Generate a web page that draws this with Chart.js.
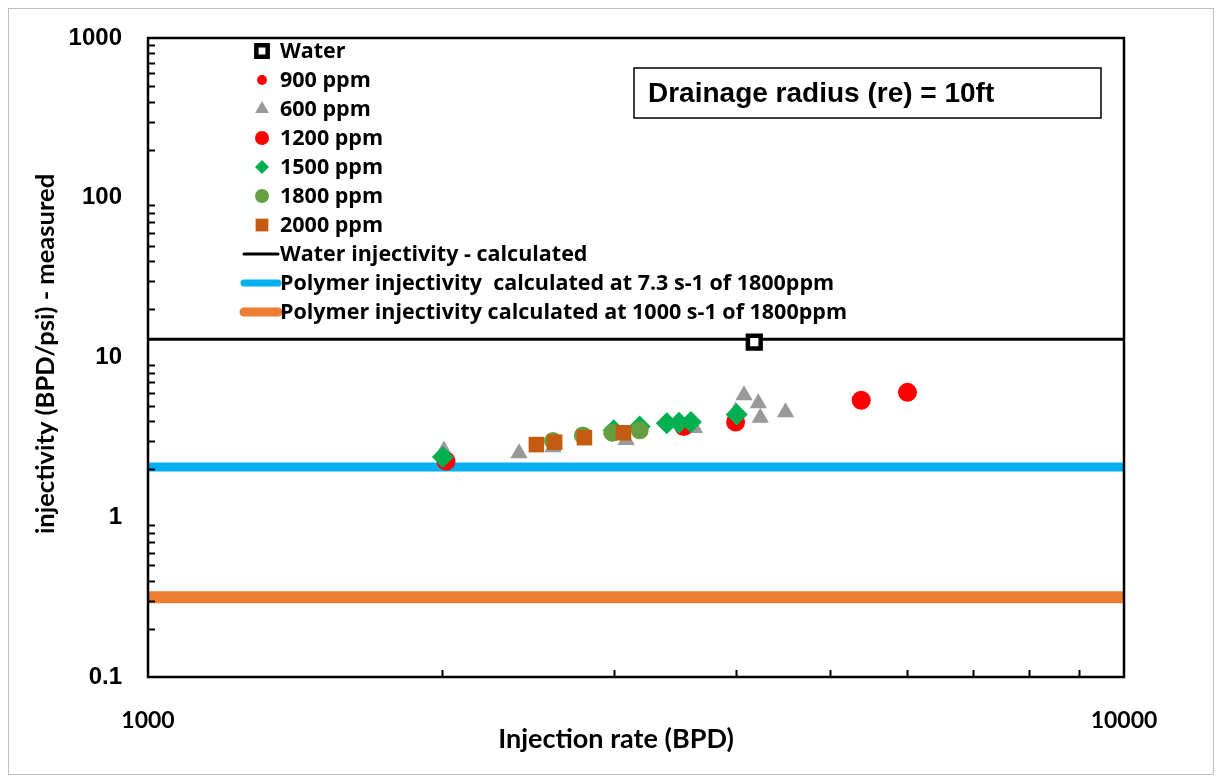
<!DOCTYPE html>
<html>
<head>
<meta charset="utf-8">
<script src="https://cdn.jsdelivr.net/npm/chart.js@4/dist/chart.umd.min.js"></script>
<style>
  html, body { margin: 0; padding: 0; background: #fff; }
  #wrap { width: 1222px; height: 781px; position: relative; }
</style>
</head>
<body>
<div id="wrap"><canvas id="injChart" width="1222" height="781"></canvas></div>
<script>
// measured injectivity vs injection rate
const waterX = [4180];
const waterY = [12.5];
const ppm900X = [2010, 4000];
const ppm900Y = [2.25, 3.95];
const ppm600X = [2010, 2400, 2600, 3090, 3630, 4000, 4080, 4220, 4240, 4500];
const ppm600Y = [2.62, 2.52, 2.74, 3.05, 3.62, 4.6, 5.8, 5.17, 4.2, 4.55];
const ppm1200X = [2020, 3540, 4000, 5380, 6000];
const ppm1200Y = [2.25, 3.7, 3.95, 5.4, 6.05];
const ppm1500X = [2005, 3000, 3190, 3400, 3500, 3600, 4010];
const ppm1500Y = [2.38, 3.5, 3.7, 3.88, 3.9, 3.95, 4.4];
const ppm1800X = [2600, 2790, 2990, 3190];
const ppm1800Y = [3.0, 3.25, 3.38, 3.5];
const ppm2000X = [2500, 2610, 2800, 3070];
const ppm2000Y = [2.85, 2.95, 3.15, 3.38];

// calculated injectivity (constant over rate)
const rateRange = [1000, 10000];
const waterCalc = 13.0;
const polyLowShear = 2.06;
const polyHighShear = 0.316;

const xTicks = [1000, 10000];
const yTicks = [0.1, 1, 10, 100, 1000];

function pts(xs, ys) {
  return xs.map((x, i) => ({ x: x, y: ys[i] }));
}
function flat(v) {
  return rateRange.map(x => ({ x: x, y: v }));
}

const datasets = [
  { label: 'Water', data: pts(waterX, waterY), showLine: false, pointStyle: 'rect',
    pointRadius: 9, backgroundColor: '#ffffff', borderColor: '#000000', borderWidth: 4.5, order: 0,
    legendRadius: 8 },
  { label: '900 ppm', data: pts(ppm900X, ppm900Y), showLine: false, pointStyle: 'circle',
    pointRadius: 6, backgroundColor: '#ff0000', borderColor: '#ff0000', borderWidth: 0, order: 4,
    legendRadius: 5 },
  { label: '600 ppm', data: pts(ppm600X, ppm600Y), showLine: false, pointStyle: 'triangle',
    pointRadius: 10, backgroundColor: '#999999', borderColor: '#999999', borderWidth: 0, order: 6,
    legendRadius: 8 },
  { label: '1200 ppm', data: pts(ppm1200X, ppm1200Y), showLine: false, pointStyle: 'circle',
    pointRadius: 9.5, backgroundColor: '#ff0000', borderColor: '#ff0000', borderWidth: 0, order: 5,
    legendRadius: 7 },
  { label: '1500 ppm', data: pts(ppm1500X, ppm1500Y), showLine: false, pointStyle: 'rectRot',
    pointRadius: 11, backgroundColor: '#00b050', borderColor: '#00b050', borderWidth: 0, order: 3,
    legendRadius: 7 },
  { label: '1800 ppm', data: pts(ppm1800X, ppm1800Y), showLine: false, pointStyle: 'circle',
    pointRadius: 9, backgroundColor: '#64a040', borderColor: '#64a040', borderWidth: 0, order: 2,
    legendRadius: 7 },
  { label: '2000 ppm', data: pts(ppm2000X, ppm2000Y), showLine: false, pointStyle: 'rect',
    pointRadius: 11, backgroundColor: '#c55a11', borderColor: '#c55a11', borderWidth: 0, order: 1,
    legendRadius: 9 },
  { label: 'Water injectivity - calculated', data: flat(waterCalc), showLine: true, pointRadius: 0,
    borderColor: '#000000', borderWidth: 3, order: 10, legendWidth: 3 },
  { label: 'Polymer injectivity  calculated at 7.3 s-1 of 1800ppm', data: flat(polyLowShear), showLine: true,
    pointRadius: 0, borderColor: '#00b0f0', borderWidth: 9, order: 10, legendWidth: 7 },
  { label: 'Polymer injectivity calculated at 1000 s-1 of 1800ppm', data: flat(polyHighShear), showLine: true,
    pointRadius: 0, borderColor: '#ed7d31', borderWidth: 12, order: 10, legendWidth: 9 }
];

const legendFont = 'bold 21.5px "Open Sans", "Liberation Sans", sans-serif';

function markerPath(c, style, x, y, r) {
  c.beginPath();
  if (style === 'rect') {
    const s = r / Math.SQRT2;
    c.rect(x - s, y - s, 2 * s, 2 * s);
  } else if (style === 'circle') {
    c.arc(x, y, r, 0, Math.PI * 2);
  } else if (style === 'triangle') {
    c.moveTo(x, y - r);
    c.lineTo(x + r * 0.866, y + r * 0.5);
    c.lineTo(x - r * 0.866, y + r * 0.5);
    c.closePath();
  } else if (style === 'rectRot') {
    c.moveTo(x, y - r); c.lineTo(x + r, y); c.lineTo(x, y + r); c.lineTo(x - r, y);
    c.closePath();
  }
}

// white page, thin grey frame, plot box, inward minor ticks, texts
const decorations = {
  id: 'decorations',
  beforeDraw(chart) {
    const c = chart.ctx;
    c.save();
    c.fillStyle = '#ffffff';
    c.fillRect(0, 0, chart.width, chart.height);
    c.strokeStyle = '#bfbfbf';
    c.lineWidth = 1;
    c.strokeRect(8.5, 8.5, 1205, 766);
    c.restore();
  },
  afterDatasetsDraw(chart) {
    const c = chart.ctx;
    const a = chart.chartArea;
    const xs = chart.scales.x, ys = chart.scales.y;
    c.save();
    c.strokeStyle = '#000000';
    c.lineWidth = 2;
    // minor ticks on the left axis
    c.beginPath();
    for (let d = -1; d < 3; d++) {
      for (let m = 2; m <= 9; m++) {
        const py = Math.round(ys.getPixelForValue(m * Math.pow(10, d))) + 0.5;
        c.moveTo(a.left, py); c.lineTo(a.left + 7, py);
      }
    }
    // minor ticks on the bottom axis
    for (let m = 2; m <= 9; m++) {
      const px = Math.round(xs.getPixelForValue(m * 1000)) + 0.5;
      c.moveTo(px, a.bottom); c.lineTo(px, a.bottom - 7);
    }
    c.stroke();
    c.lineWidth = 2.5;
    c.strokeRect(a.left, a.top, a.right - a.left, a.bottom - a.top);

    // annotation box
    c.lineWidth = 1.5;
    c.strokeRect(634, 68, 467, 50);
    c.fillStyle = '#000000';
    c.font = 'bold 28px "Liberation Sans", Arial, sans-serif';
    c.textBaseline = 'middle';
    c.textAlign = 'left';
    c.fillText('Drainage radius (re) = 10ft', 648, 94);

    // legend
    c.font = legendFont;
    const rowY0 = 51, rowStep = 29;
    chart.data.datasets.forEach((ds, i) => {
      const y = rowY0 + i * rowStep;
      if (ds.showLine) {
        c.strokeStyle = ds.borderColor;
        c.lineWidth = ds.legendWidth;
        c.lineCap = 'round';
        c.beginPath();
        c.moveTo(244, y); c.lineTo(278, y);
        c.stroke();
        c.lineCap = 'butt';
      } else {
        c.fillStyle = ds.backgroundColor;
        c.strokeStyle = ds.borderColor;
        c.lineWidth = ds.borderWidth;
        markerPath(c, ds.pointStyle, 262, y, ds.legendRadius);
        c.fill();
        if (ds.borderWidth) c.stroke();
      }
      c.fillStyle = '#000000';
      c.fillText(ds.label, 280, y + 1);
    });

    // axis titles
    c.font = 'bold 27px Lato, "Liberation Sans", sans-serif';
    c.textAlign = 'center';
    c.fillText('Injection rate (BPD)', 616, 739);
    c.font = 'bold 25.5px Lato, "Liberation Sans", sans-serif';
    c.translate(46, 354);
    c.rotate(-Math.PI / 2);
    c.fillText('injectivity (BPD/psi) - measured', 0, 0);
    c.restore();
  }
};

const ctx = document.getElementById('injChart').getContext('2d');
new Chart(ctx, {
  type: 'scatter',
  data: { datasets: datasets },
  options: {
    responsive: false,
    animation: false,
    layout: { padding: { left: 0, top: 38, right: 98, bottom: 0 } },
    plugins: { legend: { display: false }, tooltip: { enabled: false } },
    scales: {
      x: {
        type: 'logarithmic',
        min: 1000, max: 10000,
        afterFit(s) { s.height = 104; },
        afterBuildTicks(s) { s.ticks = xTicks.map(v => ({ value: v })); },
        grid: { display: false },
        border: { display: false },
        ticks: {
          autoSkip: false, maxRotation: 0, padding: 22, color: '#000000',
          font: { family: 'Lato, "Liberation Sans", sans-serif', size: 23, weight: 'bold' },
          callback: v => String(v)
        }
      },
      y: {
        type: 'logarithmic',
        min: 0.1, max: 1000,
        afterFit(s) { s.width = 148; },
        afterBuildTicks(s) { s.ticks = yTicks.map(v => ({ value: v })); },
        grid: { display: false },
        border: { display: false },
        ticks: {
          autoSkip: false, padding: 18, color: '#000000',
          font: { family: '"Liberation Sans", Arial, sans-serif', size: 24, weight: 'bold' },
          callback: v => String(v)
        }
      }
    }
  },
  plugins: [decorations]
});
</script>
</body>
</html>
